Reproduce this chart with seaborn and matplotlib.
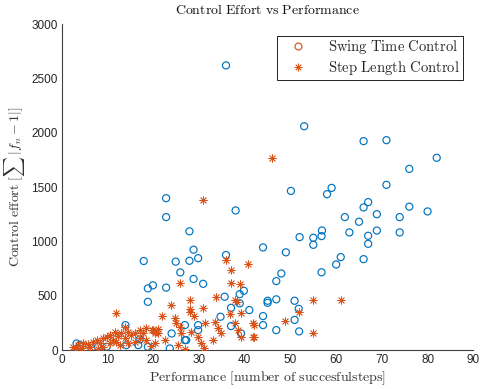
import matplotlib
matplotlib.use("Agg")
import matplotlib.pyplot as plt
from matplotlib.lines import Line2D
import seaborn as sns
import pandas as pd

# Swing Time Control (blue circles)
swing_x = [35.9, 53, 66, 71, 82, 76, 71, 59, 58, 50.1, 67, 66, 76, 80, 68.9, 61.9, 73.9, 65,
           56.9, 68.9, 62.9, 73.9, 52, 55, 56.8, 67, 55, 67, 61, 60, 66, 56.8, 38, 22.8, 22.8,
           27.9, 44, 49, 28.8, 29.8, 27.9, 24.9, 17.9, 35.9, 25.9, 28.8, 30.9, 22.8, 19.9, 18.8,
           18.8, 48, 46.9, 45, 45, 46.9, 50.9, 51.8, 44, 44, 50.9, 46.9, 51.9, 39.8, 38.9, 35.6,
           37, 38.9, 41, 34.7, 37, 39.2, 29.8, 26.9, 24, 23.6, 26.9, 13.9, 17, 16.7, 18.8, 14.1,
           9.8, 7.9, 5, 3.9, 3.2, 29.8, 27.2]
swing_y = [2620, 2060, 1923, 1932, 1770, 1668, 1521, 1493, 1435, 1465, 1362, 1313, 1320, 1276,
           1251, 1224, 1224, 1181, 1101, 1100, 1083, 1083, 1040, 1034, 1049, 1052, 969, 978, 856,
           788, 837, 716, 1285, 1398, 1224, 1093, 945, 900, 924, 846, 822, 814, 820, 875, 715,
           655, 610, 575, 596, 568, 444, 705, 635, 454, 435, 467, 454, 380, 313, 230, 278, 184,
           172, 546, 515, 491, 389, 430, 368, 307, 221, 153, 184, 230, 153, 15, 92, 230, 98, 46,
           31, 46, 31, 31, 0, 46, 61, 230, 92]

# Step Length Control (orange asterisks)
step_x = [45.9, 30.9, 35.8, 40.8, 36.9, 36.9, 39, 25.9, 28, 28, 28, 30.9, 23.8, 21.9, 24.8,
          28.8, 33.8, 37.8, 38.3, 36.7, 39.1, 55, 61, 51.9, 48.9, 55, 42.1, 42.1, 11.8, 25,
          25.8, 21, 22.5, 28.3, 31.2, 33.4, 34.1, 33, 34.9, 37.8, 41.8, 41.8, 26.1, 29.8, 20.3,
          25.4, 30.5, 38.5, 39.2, 2.5, 3.6, 4.7, 5.7, 6.8, 7.6, 8.3, 9.0, 9.8, 10.5, 11.2, 11.6,
          12.3, 13.0, 13.8, 14.5, 15.2, 15.9, 17.0, 17.8, 18.5, 19.6, 20.3, 21, 11.9, 9.0, 6.1,
          10.5, 14.5, 4.3, 12.7, 15.9, 18.5, 13.8, 17, 3, 8, 19.5, 27, 31, 19.9]
step_y = [1770, 1380, 830, 795, 736, 619, 608, 617, 463, 380, 352, 385, 417, 318, 296, 310,
          490, 460, 441, 334, 337, 462, 462, 352, 264, 153, 233, 123, 337, 245, 215, 153, 92,
          169, 245, 261, 199, 92, 153, 245, 245, 123, 153, 123, 61, 46, 61, 184, 123, 25, 46,
          61, 55, 77, 92, 61, 107, 123, 138, 92, 169, 129, 153, 107, 169, 138, 153, 184, 153,
          199, 184, 153, 190, 77, 31, 25, 61, 61, 15, 46, 77, 92, 215, 107, 10, 10, 40, 10, 20,
          184]

x_ticks = list(range(0, 91, 10))
y_ticks = list(range(0, 3001, 500))

title = r"$\mathrm{Control\ Effort\ vs\ Performance}$"
xlabel = r"$\mathrm{Performance\ [number\ of\ succesfulsteps]}$"
ylabel = r"$\mathrm{Control\ effort}\ [\sum\, |f_n-1|]$"
labels = [r"$\mathrm{Swing\ Time\ Control}$", r"$\mathrm{Step\ Length\ Control}$"]

blue = "#0072BD"
orange = "#D95319"

sns.set_theme(style="white")
plt.rcParams["font.family"] = ["Liberation Sans", "DejaVu Sans"]
plt.rcParams["mathtext.fontset"] = "cm"

fig = plt.figure(figsize=(4.8, 3.89), dpi=100)
ax = fig.add_axes([0.129, 0.100, 0.857, 0.838])

df_s = pd.DataFrame({"x": swing_x, "y": swing_y})
df_l = pd.DataFrame({"x": step_x, "y": step_y})

sns.scatterplot(data=df_s, x="x", y="y", ax=ax, marker="o", s=26,
                facecolor="none", edgecolor=blue, linewidth=0.85, zorder=2)
sns.scatterplot(data=df_l, x="x", y="y", ax=ax, marker=(8, 2, 0), s=28,
                color=orange, linewidth=0.6, zorder=3)

ax.set_xlim(0, 90)
ax.set_ylim(0, 3000)
ax.set_xticks(x_ticks)
ax.set_yticks(y_ticks)
ax.tick_params(direction="in", length=3.5, width=0.7, colors="#404040",
               labelsize=8.5, labelcolor="#262626", pad=3)
for s in ["top", "right"]:
    ax.spines[s].set_visible(False)
for s in ["left", "bottom"]:
    ax.spines[s].set_color("#404040")
    ax.spines[s].set_linewidth(0.8)

ax.set_title(title, fontsize=10, color="#111111", pad=7)
ax.set_xlabel(xlabel, fontsize=10, color="#333333", labelpad=2)
ax.set_ylabel(ylabel, fontsize=10, color="#333333", labelpad=3)

handles = [
    Line2D([], [], linestyle="none", marker="o", markerfacecolor="none",
           markeredgecolor=orange, markersize=5, markeredgewidth=0.85),
    Line2D([], [], linestyle="none", marker=(8, 2, 0), color=orange,
           markersize=5.5, markeredgewidth=0.6),
]
leg = ax.legend(handles, labels,
                loc="upper right", bbox_to_anchor=(0.975, 0.965), fontsize=10.5,
                frameon=True, fancybox=False, framealpha=1, edgecolor="#222222",
                borderpad=0.2, handletextpad=0.9, labelspacing=0.15, handlelength=2.4,
                borderaxespad=0)
leg.get_frame().set_linewidth(0.7)

fig.savefig("out.png", dpi=100)
